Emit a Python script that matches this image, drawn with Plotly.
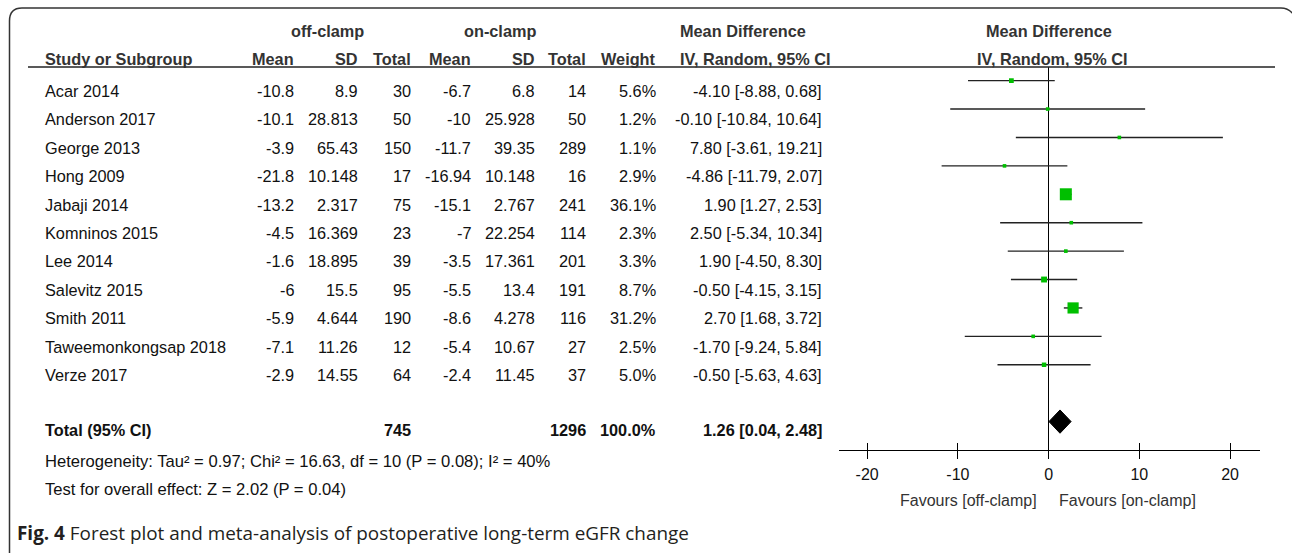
import plotly.graph_objects as go

# ---------------- data ----------------
studies = ["Acar 2014", "Anderson 2017", "George 2013", "Hong 2009", "Jabaji 2014",
           "Komninos 2015", "Lee 2014", "Salevitz 2015", "Smith 2011",
           "Taweemonkongsap 2018", "Verze 2017"]
off_mean = [-10.8, -10.1, -3.9, -21.8, -13.2, -4.5, -1.6, -6, -5.9, -7.1, -2.9]
off_sd = [8.9, 28.813, 65.43, 10.148, 2.317, 16.369, 18.895, 15.5, 4.644, 11.26, 14.55]
off_n = [30, 50, 150, 17, 75, 23, 39, 95, 190, 12, 64]
on_mean = [-6.7, -10, -11.7, -16.94, -15.1, -7, -3.5, -5.5, -8.6, -5.4, -2.4]
on_sd = [6.8, 25.928, 39.35, 10.148, 2.767, 22.254, 17.361, 13.4, 4.278, 10.67, 11.45]
on_n = [14, 50, 289, 16, 241, 114, 201, 191, 116, 27, 37]
weight = [5.6, 1.2, 1.1, 2.9, 36.1, 2.3, 3.3, 8.7, 31.2, 2.5, 5.0]
md = [-4.10, -0.10, 7.80, -4.86, 1.90, 2.50, 1.90, -0.50, 2.70, -1.70, -0.50]
ci_lo = [-8.88, -10.84, -3.61, -11.79, 1.27, -5.34, -4.50, -4.15, 1.68, -9.24, -5.63]
ci_hi = [0.68, 10.64, 19.21, 2.07, 2.53, 10.34, 8.30, 3.15, 3.72, 5.84, 4.63]

total_label = "Total (95% CI)"
total_off_n = 745
total_on_n = 1296
total_weight = 100.0
total_md = 1.26
total_lo = 0.04
total_hi = 2.48

x_ticks = [-20, -10, 0, 10, 20]
heterogeneity = "Heterogeneity: Tau² = 0.97; Chi² = 16.63, df = 10 (P = 0.08); I² = 40%"
overall = "Test for overall effect: Z = 2.02 (P = 0.04)"
caption_bold = "Fig. 4"
caption = "Forest plot and meta-analysis of postoperative long-term eGFR change"
fav_left = "Favours [off-clamp]"
fav_right = "Favours [on-clamp]"

# ---------------- layout helpers ----------------
W, H = 1292, 553
FONT = "Liberation Sans, Arial, sans-serif"
TXT = "#111111"
HDR = "#333333"
FS = 16.3


def px(x):
    return x / W


def py(y):
    return 1 - y / H


def g(v):
    return "%g" % v


rows = list(range(len(studies)))
total_row = len(studies) + 1

fig = go.Figure()

# CI lines + squares
fig.add_trace(go.Scatter(
    x=md, y=rows, mode="markers",
    error_x=dict(type="data", symmetric=False,
                 array=[h - m for h, m in zip(ci_hi, md)],
                 arrayminus=[m - l for m, l in zip(md, ci_lo)],
                 width=0, thickness=1.4, color="#222222"),
    marker=dict(symbol="square", color="#00BF00", opacity=1,
                size=[max(3.6, 2.0 * w ** 0.5) for w in weight],
                line=dict(width=0)),
    hoverinfo="skip", showlegend=False))

# Total diamond
fig.add_trace(go.Scatter(
    x=[total_lo, total_md, total_hi, total_md, total_lo],
    y=[total_row, total_row - 0.41, total_row, total_row + 0.41, total_row],
    mode="lines", fill="toself", fillcolor="black",
    line=dict(color="black", width=1), hoverinfo="skip", showlegend=False))

# invisible trace to activate the second (inside-tick) x axis
fig.add_trace(go.Scatter(x=[0], y=[0], xaxis="x2", mode="markers",
                         marker=dict(opacity=0), hoverinfo="skip", showlegend=False))

x_range = [-23.1, 23.3]
dom_x = [px(839), px(1260)]
dom_y = [py(450), py(67)]

fig.update_layout(
    width=W, height=H, margin=dict(l=0, r=0, t=0, b=0),
    paper_bgcolor="white", plot_bgcolor="white",
    xaxis=dict(domain=dom_x, range=x_range, tickvals=x_ticks,
               ticktext=[str(t) for t in x_ticks],
               ticks="outside", ticklen=8, tickwidth=1.3, tickcolor="black",
               showline=True, linecolor="black", linewidth=1.3,
               showgrid=False, zeroline=True, zerolinecolor="black", zerolinewidth=1.2,
               tickfont=dict(family=FONT, size=16, color=TXT),
               ticklabelstandoff=2, fixedrange=True),
    xaxis2=dict(domain=dom_x, range=x_range, tickvals=x_ticks, overlaying="x",
                anchor="y", side="bottom", ticks="inside", ticklen=7, tickwidth=1.3,
                tickcolor="black", showticklabels=False, showline=False,
                showgrid=False, zeroline=False, fixedrange=True),
    yaxis=dict(domain=dom_y, range=[13.0, -0.48], visible=False, fixedrange=True),
)

ann = []


def add_text(text, x, y, anchor="right", size=FS, color=TXT, bold=False,
             yref="paper", yshift=0, family=FONT):
    if bold:
        text = "<b>%s</b>" % text
    ann.append(dict(text=text, x=x, y=y, xref="paper", yref=yref,
                    xanchor=anchor, yanchor="middle", showarrow=False,
                    yshift=yshift, font=dict(family=family, size=size, color=color)))


# column right edges (px)
col_x = [296, 360, 413, 473, 537, 588, 658, 824]

# header lines
add_text("off-clamp", px(327), py(31), anchor="center", bold=True, color=HDR)
add_text("on-clamp", px(500), py(31), anchor="center", bold=True, color=HDR)
add_text("Mean Difference", px(678), py(31), anchor="left", bold=True, color=HDR)
add_text("Mean Difference", px(1049), py(31), anchor="center", bold=True, color=HDR)
add_text("Study or Subgroup", px(43), py(59), anchor="left", bold=True, color=HDR)
for lab, cx in zip(["Mean", "SD", "Total", "Mean", "SD", "Total", "Weight"], col_x[:7]):
    add_text(lab, px(cx), py(59), bold=True, color=HDR)
add_text("IV, Random, 95% CI", px(678), py(59), anchor="left", bold=True, color=HDR)
add_text("IV, Random, 95% CI", px(1052), py(59), anchor="center", bold=True, color=HDR)

# study rows
RS = -10.3
for i, s in enumerate(studies):
    add_text(s, px(43), i, anchor="left", yref="y", yshift=RS)
    vals = [g(off_mean[i]), g(off_sd[i]), str(off_n[i]), g(on_mean[i]), g(on_sd[i]),
            str(on_n[i]), "%.1f%%" % weight[i],
            "%.2f [%.2f, %.2f]" % (md[i], ci_lo[i], ci_hi[i])]
    for v, cx in zip(vals, col_x):
        add_text(v, px(cx), i, yref="y", yshift=RS)

# total row
add_text(total_label, px(43), total_row, anchor="left", yref="y", yshift=-8.5, bold=True)
add_text(str(total_off_n), px(col_x[2]), total_row, yref="y", yshift=-8.5, bold=True)
add_text(str(total_on_n), px(col_x[5]), total_row, yref="y", yshift=-8.5, bold=True)
add_text("%.1f%%" % total_weight, px(col_x[6]), total_row, yref="y", yshift=-8.5, bold=True)
add_text("%.2f [%.2f, %.2f]" % (total_md, total_lo, total_hi), px(col_x[7]), total_row,
         yref="y", yshift=-8.5, bold=True)

# footnotes
add_text(heterogeneity, px(43), py(461), anchor="left", size=16.6)
add_text(overall, px(43), py(490), anchor="left", size=16.6)
add_text(fav_left, px(1039), py(500), anchor="right", size=16, color="#333333")
add_text(fav_right, px(1057), py(500), anchor="left", size=16, color="#333333")
add_text("<b>%s</b> %s" % (caption_bold, caption), px(15), py(533), anchor="left",
         size=18.9, color="#231f20", family="Open Sans, sans-serif")

fig.update_layout(annotations=ann)

# header rule and outer rounded frame
shapes = [dict(type="line", xref="paper", yref="paper", x0=px(28), x1=px(1275),
               y0=py(67), y1=py(67), line=dict(color="#222222", width=1.5))]
frame = "M %f,%f L %f,%f Q %f,%f %f,%f L %f,%f Q %f,%f %f,%f" % (
    px(9.5), py(556), px(9.5), py(21), px(9.5), py(8), px(22), py(8),
    px(1281), py(8), px(1291), py(8), px(1297), py(20))
shapes.append(dict(type="path", xref="paper", yref="paper", path=frame,
                   line=dict(color="#333333", width=1.5)))
fig.update_layout(shapes=shapes)

fig.write_html("out.html", config={"displayModeBar": False},
               post_script="document.body.style.margin='0';"
                           "document.body.style.overflow='hidden';")
